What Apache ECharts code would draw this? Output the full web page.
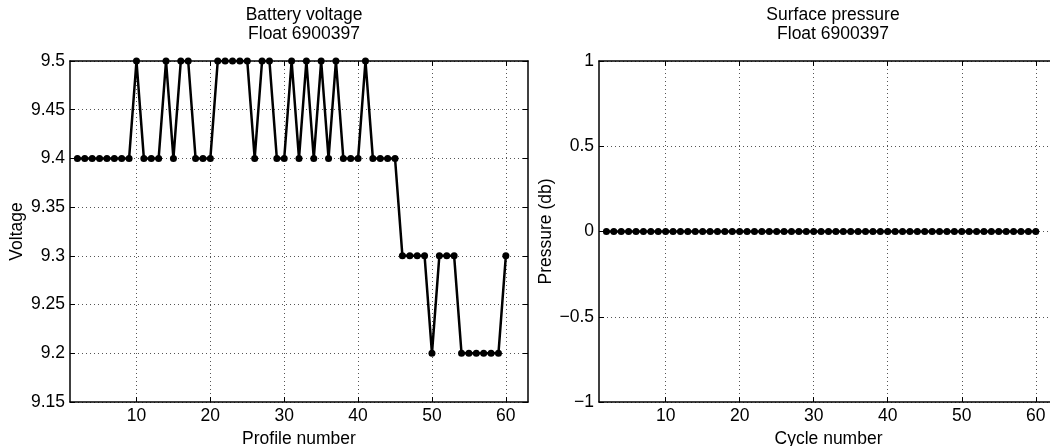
<!DOCTYPE html>
<html>
<head>
<meta charset="utf-8">
<script src="https://cdn.jsdelivr.net/npm/echarts@6/dist/echarts.min.js"></script>
<style>
  html, body { margin: 0; padding: 0; background: #fff; }
  #chart { width: 1050px; height: 446px; }
</style>
</head>
<body>
<div id="chart"></div>
<script>
// Profile / cycle numbers
const profiles = [2,3,4,5,6,7,8,9,10,11,12,13,14,15,16,17,18,19,20,21,22,23,24,25,26,27,28,29,30,
  31,32,33,34,35,36,37,38,39,40,41,42,43,44,45,46,47,48,49,50,51,52,53,54,55,56,57,58,59,60];
// Battery voltage per profile (V)
const voltage = [9.4,9.4,9.4,9.4,9.4,9.4,9.4,9.4,9.5,9.4,9.4,9.4,9.5,9.4,9.5,9.5,9.4,9.4,9.4,
  9.5,9.5,9.5,9.5,9.5,9.4,9.5,9.5,9.4,9.4,9.5,9.4,9.5,9.4,9.5,9.4,9.5,9.4,9.4,9.4,9.5,
  9.4,9.4,9.4,9.4,9.3,9.3,9.3,9.3,9.2,9.3,9.3,9.3,9.2,9.2,9.2,9.2,9.2,9.2,9.3];
// Surface pressure per cycle (db)
const pressure = [0,0,0,0,0,0,0,0,0,0,0,0,0,0,0,0,0,0,0,0,0,0,0,0,0,0,0,0,0,
  0,0,0,0,0,0,0,0,0,0,0,0,0,0,0,0,0,0,0,0,0,0,0,0,0,0,0,0,0,0];

const xTicks = [10,20,30,40,50,60];
const voltTicks = [9.15,9.2,9.25,9.3,9.35,9.4,9.45,9.5];
const presTicks = [-1,-0.5,0,0.5,1];

const FONT = 'Liberation Sans, Arial, Helvetica, sans-serif';
const FS = 17.5;

// The pressure panel runs past the right edge of the canvas, so no outer-bounds fitting
const grids = [
  { left: 70, top: 61, width: 458, height: 341, outerBoundsMode: 'none', containLabel: false },
  { left: 599, top: 61, width: 459, height: 341, outerBoundsMode: 'none', containLabel: false }
];

function pair(a, b) { return a.map((v, i) => [v, b[i]]); }
function fmt(v) { return String(v).replace('-', '\u2212'); }

const gridLine = { show: true, lineStyle: { color: '#555', type: [1, 3], width: 1 } };
const axisLine = { show: true, onZero: false, lineStyle: { color: '#000', width: 1.5 } };
const tick = () => ({ show: true, inside: true, length: 5, lineStyle: { color: '#000' } });

function xAxes(gi) {
  return [
    { gridIndex: gi, type: 'value', min: 1, max: 63, position: 'bottom',
      name: gi === 0 ? 'Profile number' : 'Cycle number', nameLocation: 'middle', nameGap: 23,
      nameTextStyle: { fontFamily: FONT, fontSize: FS, color: '#000' },
      axisLine: axisLine, axisTick: Object.assign(tick(), { customValues: xTicks }),
      axisLabel: { customValues: xTicks, fontFamily: FONT, fontSize: FS, color: '#000', margin: 5 },
      splitLine: gridLine },
    { gridIndex: gi, type: 'value', min: 1, max: 63, position: 'top',
      axisLine: axisLine, axisTick: Object.assign(tick(), { customValues: xTicks }),
      axisLabel: { show: false }, splitLine: { show: false } }
  ];
}
function yAxes(gi, mn, mx, ticks, name) {
  return [
    { gridIndex: gi, type: 'value', min: mn, max: mx, position: 'left',
      name: name, nameLocation: 'middle', nameGap: 44,
      nameTextStyle: { fontFamily: FONT, fontSize: FS, color: '#000' },
      axisLine: axisLine, axisTick: Object.assign(tick(), { customValues: ticks }),
      axisLabel: { customValues: ticks, fontFamily: FONT, fontSize: FS, color: '#000', margin: 5, formatter: fmt },
      splitLine: gridLine },
    { gridIndex: gi, type: 'value', min: mn, max: mx, position: 'right',
      axisLine: axisLine, axisTick: Object.assign(tick(), { customValues: ticks }),
      axisLabel: { show: false }, splitLine: { show: false } }
  ];
}

const lineSeries = (xi, yi, data) => ({
  type: 'line', xAxisIndex: xi, yAxisIndex: yi, data: data,
  symbol: 'circle', symbolSize: 7, showAllSymbol: true,
  lineStyle: { color: '#000', width: 2.5 }, itemStyle: { color: '#000' },
  animation: false, silent: true
});

const chart = echarts.init(document.getElementById('chart'), null, { renderer: 'canvas' });
chart.setOption({
  backgroundColor: '#fff',
  animation: false,
  title: [
    { text: 'Battery voltage\nFloat 6900397', left: 299, top: 1, textAlign: 'center',
      textStyle: { fontFamily: FONT, fontSize: FS, fontWeight: 'normal', color: '#000', lineHeight: 19 } },
    { text: 'Surface pressure\nFloat 6900397', left: 828, top: 1, textAlign: 'center',
      textStyle: { fontFamily: FONT, fontSize: FS, fontWeight: 'normal', color: '#000', lineHeight: 19 } }
  ],
  grid: grids,
  xAxis: xAxes(0).concat(xAxes(1)),
  yAxis: yAxes(0, 9.15, 9.5, voltTicks, 'Voltage').concat(yAxes(1, -1, 1, presTicks, 'Pressure (db)')),
  series: [
    lineSeries(0, 0, pair(profiles, voltage)),
    lineSeries(2, 2, pair(profiles, pressure))
  ]
});
</script>
</body>
</html>
